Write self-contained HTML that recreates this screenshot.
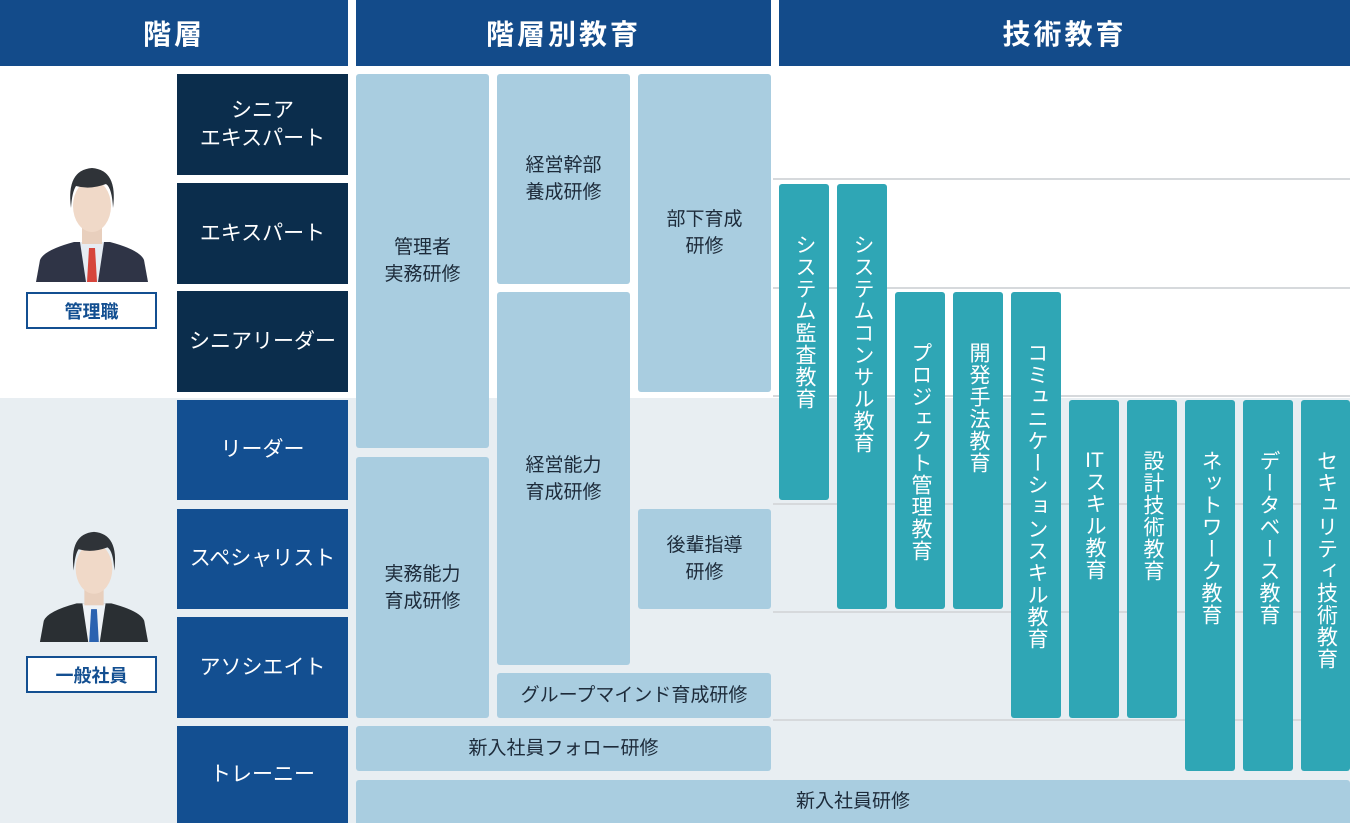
<!DOCTYPE html>
<html><head><meta charset="utf-8"><style>
*{margin:0;padding:0;box-sizing:border-box}
body{width:1350px;height:823px;position:relative;overflow:hidden;background:#fff;font-family:"Liberation Sans","Noto Sans CJK JP",sans-serif}
.a{position:absolute;display:flex;align-items:center;justify-content:center;text-align:center}
.h{background:#134b8a;color:#fff;font-size:28px;font-weight:bold;letter-spacing:3px;top:0;height:66px}
.r{left:177px;width:171px;color:#fff;font-size:21px;line-height:28px}
.d{background:#0b2d4c}.m{background:#134f91}
.b{background:#a9cde0;color:#1d2b3a;font-size:19px;line-height:27px;border-radius:3px}
.t{background:#2fa6b5;color:#fff;font-size:21px;writing-mode:vertical-rl;justify-content:flex-start;padding-top:50px;border-radius:3px;width:50px;line-height:50px;letter-spacing:1px}
.u{text-combine-upright:all}
.ln{position:absolute;left:773px;right:0;height:2px;background:#d6d9dc}
.lab{position:absolute;left:26px;width:131px;height:37px;border:2px solid #134f91;background:#fff;color:#134f91;font-size:18px;font-weight:bold;display:flex;align-items:center;justify-content:center}
</style></head><body>
<div style="position:absolute;left:0;top:398px;width:1350px;height:425px;background:#e8eef2"></div>
<div class="ln" style="top:178px"></div><div class="ln" style="top:287px"></div><div class="ln" style="top:395px"></div><div class="ln" style="top:503px"></div><div class="ln" style="top:611px"></div><div class="ln" style="top:719px"></div>

<div class="a h" style="left:0;width:348px">階層</div>
<div class="a h" style="left:356px;width:415px">階層別教育</div>
<div class="a h" style="left:779px;width:571px">技術教育</div>

<div class="a r d" style="top:74px;height:101px">シニア<br>エキスパート</div>
<div class="a r d" style="top:183px;height:101px">エキスパート</div>
<div class="a r d" style="top:291px;height:101px">シニアリーダー</div>
<div class="a r m" style="top:400px;height:100px">リーダー</div>
<div class="a r m" style="top:509px;height:100px">スペシャリスト</div>
<div class="a r m" style="top:617px;height:101px">アソシエイト</div>
<div class="a r m" style="top:726px;height:97px">トレーニー</div>

<div class="a b" style="left:356px;top:74px;width:133px;height:374px">管理者<br>実務研修</div>
<div class="a b" style="left:356px;top:457px;width:133px;height:261px">実務能力<br>育成研修</div>
<div class="a b" style="left:497px;top:74px;width:133px;height:210px">経営幹部<br>養成研修</div>
<div class="a b" style="left:497px;top:292px;width:133px;height:373px">経営能力<br>育成研修</div>
<div class="a b" style="left:497px;top:673px;width:274px;height:45px">グループマインド育成研修</div>
<div class="a b" style="left:638px;top:74px;width:133px;height:318px">部下育成<br>研修</div>
<div class="a b" style="left:638px;top:509px;width:133px;height:100px">後輩指導<br>研修</div>
<div class="a b" style="left:356px;top:726px;width:415px;height:45px">新入社員フォロー研修</div>
<div class="a b" style="left:356px;top:780px;width:994px;height:43px;border-radius:3px 3px 0 0">新入社員研修</div>

<div class="a t" style="left:779px;top:184px;height:316px">システム監査教育</div>
<div class="a t" style="left:837px;top:184px;height:425px">システムコンサル教育</div>
<div class="a t" style="left:895px;top:292px;height:317px">プロジェクト管理教育</div>
<div class="a t" style="left:953px;top:292px;height:317px">開発手法教育</div>
<div class="a t" style="left:1011px;top:292px;height:426px">コミュニケーションスキル教育</div>
<div class="a t" style="left:1069px;top:400px;height:318px"><span class="u">IT</span>スキル教育</div>
<div class="a t" style="left:1127px;top:400px;height:318px">設計技術教育</div>
<div class="a t" style="left:1185px;top:400px;height:371px">ネットワーク教育</div>
<div class="a t" style="left:1243px;top:400px;height:371px">データベース教育</div>
<div class="a t" style="left:1301px;top:400px;height:371px;width:49px">セキュリティ技術教育</div>

<svg style="position:absolute;left:34px;top:166px" width="116" height="116" viewBox="0 0 116 116">
<path d="M2 116 L6 94 Q10 84 40 76 L76 76 Q106 84 110 94 L114 116Z" fill="#2f3446"/>
<path d="M46 76 L70 76 L64 116 L52 116Z" fill="#e6ecf3"/>
<path d="M55 82 L61 82 L63 116 L53 116Z" fill="#d6453c"/>
<rect x="48" y="56" width="20" height="22" fill="#e8cfbd"/>
<ellipse cx="58" cy="40" rx="19" ry="26" fill="#f0d9c8"/>
<path d="M37 42 Q32 4 58 2 Q84 4 79 42 Q78 22 72 18 Q56 24 42 20 Q38 26 37 42Z" fill="#2f3338"/>
</svg>
<div class="lab" style="top:292px">管理職</div>
<svg style="position:absolute;left:38px;top:530px" width="112" height="112" viewBox="0 0 116 116">
<path d="M2 116 L6 94 Q10 84 40 76 L76 76 Q106 84 110 94 L114 116Z" fill="#2a2f33"/>
<path d="M46 76 L70 76 L64 116 L52 116Z" fill="#eef2f6"/>
<path d="M55 82 L61 82 L63 116 L53 116Z" fill="#2a62b0"/>
<rect x="48" y="56" width="20" height="22" fill="#e8cfbd"/>
<ellipse cx="58" cy="40" rx="19" ry="26" fill="#f0d9c8"/>
<path d="M37 42 Q32 4 58 2 Q84 4 79 42 Q78 22 72 18 Q56 24 42 20 Q38 26 37 42Z" fill="#2f3338"/>
</svg>
<div class="lab" style="top:656px">一般社員</div>
</body></html>
